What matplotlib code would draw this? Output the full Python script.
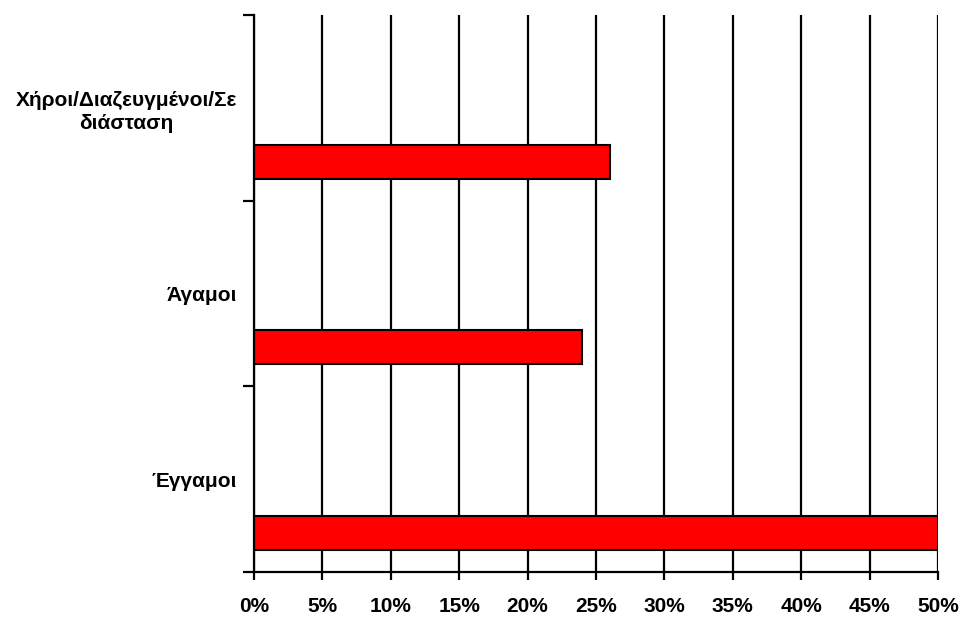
import matplotlib.pyplot as plt
import numpy as np
from matplotlib.ticker import FixedLocator, FuncFormatter

categories = ['Έγγαμοι', 'Άγαμοι', 'Χήροι/Διαζευγμένοι/Σε\nδιάσταση']
shares = [50, 24, 26]
x_ticks = list(range(0, 55, 5))

plt.rcParams['font.family'] = ['Liberation Sans', 'DejaVu Sans']
plt.rcParams['font.weight'] = 'bold'


def main():
    fig = plt.figure(figsize=(9.64, 6.17), dpi=100)
    ax = fig.add_axes([0.2635, 0.0729, 0.7095, 0.9028])

    pos = np.arange(len(categories))
    # bars sit in the lower part of each category band
    ax.barh(pos - 0.29, shares, height=0.183, color='#ff0000',
            edgecolor='black', linewidth=1.5, zorder=3)

    ax.set_xlim(0, 50)
    ax.set_ylim(-0.5, len(categories) - 0.5)

    ax.xaxis.set_major_locator(FixedLocator(x_ticks))
    ax.xaxis.set_major_formatter(FuncFormatter(lambda v, _: f'{v:.0f}%'))
    ax.grid(axis='x', color='black', linewidth=1.6, zorder=1)

    # band boundaries get tick marks, labels go in the middle of the band
    ax.yaxis.set_major_locator(FixedLocator(np.arange(-0.5, len(categories), 1.0)))
    ax.yaxis.set_major_formatter(FuncFormatter(lambda v, _: ''))
    ax.yaxis.set_minor_locator(FixedLocator(pos))
    ax.set_yticklabels(categories, minor=True, fontsize=15, fontweight='bold',
                       multialignment='center', linespacing=1.3)

    ax.tick_params(axis='y', which='major', direction='out', length=8, width=1.6)
    ax.tick_params(axis='y', which='minor', length=0, pad=12)
    ax.tick_params(axis='x', direction='out', length=6, width=1.6, pad=12,
                   labelsize=15)
    for lbl in ax.get_xticklabels():
        lbl.set_fontweight('bold')

    for side in ['top', 'right']:
        ax.spines[side].set_visible(False)
    for side in ['left', 'bottom']:
        ax.spines[side].set_linewidth(1.6)
        ax.spines[side].set_zorder(4)

    fig.savefig('out.png', dpi=100)


if __name__ == '__main__':
    main()
